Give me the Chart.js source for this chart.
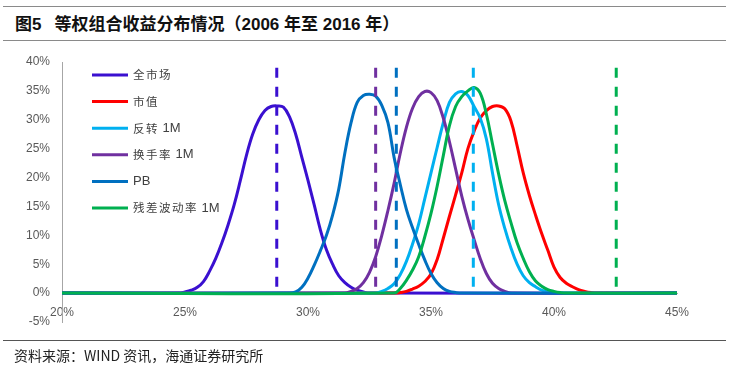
<!DOCTYPE html>
<html><head><meta charset="utf-8">
<script src="https://cdn.jsdelivr.net/npm/chart.js@4.4.1/dist/chart.umd.min.js"></script>
<style>
html,body{margin:0;padding:0;background:#fff;}
#wrap{position:relative;width:729px;height:379px;overflow:hidden;background:#fff;}
#chart{position:absolute;left:0;top:0;}
.rule{position:absolute;left:3px;width:723px;height:0;}
#title{position:absolute;left:15px;top:15px;font-weight:bold;font-size:17px;font-family:"Liberation Sans","Noto Sans CJK SC",sans-serif;color:#111;white-space:pre;line-height:20px;}
#source{position:absolute;left:14px;top:345px;font-size:14px;font-family:"Noto Sans CJK SC","Liberation Sans",sans-serif;color:#222;white-space:pre;line-height:20px;}
</style></head>
<body>
<div id="wrap">
<div class="rule" style="top:6px;border-top:1.5px solid #8a8a8a"></div>
<div id="title">图5<span style="margin-left:13px">等权组合收益分布情况（2006 年至 2016 年）</span></div>
<div class="rule" style="top:40px;border-top:1.5px solid #8a8a8a"></div>
<canvas id="chart" width="729" height="379"></canvas>
<div class="rule" style="top:340px;border-top:1.5px solid #555"></div>
<div id="source">资料来源：WIND 资讯，海通证券研究所</div>
</div>
<script>
// ---- data (returns in %, density in %) ----
const seriesNames = ["全市场", "市值", "反转 1M", "换手率 1M", "PB", "残差波动率 1M"];
const seriesColors = ["#3A10D0", "#FF0000", "#00B0F0", "#7030A0", "#0070C0", "#00B050"];

const allMarketX = [20, 24.75, 25, 25.25, 25.5, 25.75, 26, 26.25, 26.5, 26.75, 27, 27.25, 27.5, 27.75, 28, 28.25, 28.5, 28.75, 29, 29.25, 29.5, 29.75, 30, 30.25, 30.5, 30.75, 31, 31.25, 31.5, 31.75, 32, 32.25, 32.5, 45];
const allMarketY = [0, 0, 0.2, 0.5, 1.0, 2.0, 3.8, 6.0, 8.7, 11.8, 15.3, 19.5, 23.9, 27.5, 30.0, 31.6, 32.3, 32.4, 32.2, 30.5, 27.5, 23.5, 19.5, 15.3, 11.0, 7.5, 5.0, 3.0, 1.8, 1.0, 0.5, 0.2, 0, 0];

const sizeX = [20, 33.5, 33.75, 34, 34.25, 34.5, 34.75, 35, 35.25, 35.5, 35.75, 36, 36.25, 36.5, 36.75, 37, 37.25, 37.5, 37.75, 38, 38.25, 38.5, 38.75, 39, 39.25, 39.5, 39.75, 40, 40.25, 40.5, 40.75, 41, 41.25, 41.5, 41.75, 45];
const sizeY = [0, 0, 0.1, 0.3, 0.7, 1.2, 2.0, 3.3, 5.8, 9.5, 13.3, 17.0, 20.8, 25.0, 28.0, 30.3, 31.6, 32.3, 32.4, 31.9, 29.8, 25.5, 20.8, 16.9, 13.5, 10.3, 7.4, 4.5, 2.7, 1.7, 1.1, 0.6, 0.3, 0.1, 0, 0];

const reversalX = [20, 32.75, 33, 33.25, 33.5, 33.75, 34, 34.25, 34.5, 34.75, 35, 35.25, 35.5, 35.75, 36, 36.25, 36.5, 36.75, 37, 37.25, 37.5, 37.75, 38, 38.25, 38.5, 38.75, 39, 39.25, 39.5, 39.75, 40, 45];
const reversalY = [0, 0, 0.3, 0.8, 1.6, 3.2, 5.5, 8.5, 12.0, 16.4, 20.8, 25.2, 29.5, 33.0, 34.5, 34.9, 34.2, 32.3, 30.3, 26.7, 20.8, 15.3, 11.2, 7.8, 5.0, 3.0, 1.8, 1.1, 0.5, 0.2, 0, 0];

const turnoverX = [20, 31.5, 31.75, 32, 32.25, 32.5, 32.75, 33, 33.25, 33.5, 33.75, 34, 34.25, 34.5, 34.75, 35, 35.25, 35.5, 35.75, 36, 36.25, 36.5, 36.75, 37, 37.25, 37.5, 37.75, 38, 38.25, 45];
const turnoverY = [0, 0, 0.3, 0.8, 1.8, 3.6, 6.3, 10.0, 14.3, 19.0, 24.2, 28.7, 32.0, 34.0, 34.9, 34.7, 33.3, 30.3, 26.2, 21.5, 16.8, 12.8, 9.3, 6.0, 3.4, 1.7, 0.8, 0.3, 0, 0];

const pbX = [20, 29.25, 29.5, 29.75, 30, 30.25, 30.5, 30.75, 31, 31.25, 31.5, 31.75, 32, 32.25, 32.5, 32.75, 33, 33.25, 33.5, 33.75, 34, 34.25, 34.5, 34.75, 35, 35.25, 35.5, 35.75, 36, 36.25, 45];
const pbY = [0, 0, 0.2, 1.0, 2.6, 4.8, 7.3, 10.0, 13.5, 18.0, 24.3, 29.5, 33.0, 34.2, 34.4, 34.1, 32.5, 29.5, 23.5, 18.8, 14.5, 11.3, 8.4, 5.7, 3.4, 1.8, 0.8, 0.3, 0.1, 0, 0];

const residVolX = [20, 33.5, 33.75, 34, 34.25, 34.5, 34.75, 35, 35.25, 35.5, 35.75, 36, 36.25, 36.5, 36.75, 37, 37.25, 37.5, 37.75, 38, 38.25, 38.5, 38.75, 39, 39.25, 39.5, 39.75, 40, 40.25, 40.5, 45];
const residVolY = [0, 0, 0.8, 2.2, 4.0, 6.3, 9.8, 13.8, 18.5, 23.8, 29.0, 32.3, 34.0, 35.0, 35.6, 34.6, 31.0, 25.8, 20.6, 16.0, 12.2, 8.7, 6.0, 3.7, 2.1, 1.2, 0.6, 0.3, 0.1, 0, 0];

// vertical dashed reference lines (realised return of each portfolio), null = not shown
const refReturns = [28.73, null, 36.72, 32.75, 33.59, 42.53];
const refLineTop = 39;

const xTicks = [20, 25, 30, 35, 40, 45];
const yTicks = [-5, 0, 5, 10, 15, 20, 25, 30, 35, 40];

// ---- build datasets ----
const xsList = [allMarketX, sizeX, reversalX, turnoverX, pbX, residVolX];
const ysList = [allMarketY, sizeY, reversalY, turnoverY, pbY, residVolY];

const datasets = [];
seriesNames.forEach((name, i) => {
  datasets.push({
    label: name,
    data: xsList[i].map((x, k) => ({x: x, y: ysList[i][k]})),
    borderColor: seriesColors[i],
    backgroundColor: seriesColors[i],
    borderWidth: 3,
    pointRadius: 0,
    fill: false,
    tension: 0.4,
    order: 20 - i
  });
});
refReturns.forEach((m, i) => {
  if (m === null) return;
  datasets.push({
    label: seriesNames[i] + ' ref',
    data: [{x: m, y: refLineTop}, {x: m, y: 0}],
    borderColor: seriesColors[i],
    borderWidth: 3,
    borderDash: [10, 9],
    borderCapStyle: 'butt',
    pointRadius: 0,
    tension: 0,
    fill: false,
    order: 1
  });
});

const FONT_LATIN = '"Liberation Sans", Arial, sans-serif';
const FONT_CJK = '"Noto Sans CJK SC", sans-serif';

function drawMixed(ctx, text, x, y) {
  const runs = [];
  for (const ch of text) {
    const cjk = /[\u3000-\u9fff\uff00-\uffef]/.test(ch);
    if (runs.length && runs[runs.length - 1].cjk === cjk) runs[runs.length - 1].t += ch;
    else runs.push({cjk: cjk, t: ch});
  }
  ctx.textBaseline = 'middle';
  ctx.textAlign = 'left';
  let cx = x;
  runs.forEach(r => {
    if (r.cjk) {
      ctx.font = '11.5px ' + FONT_CJK;
      ctx.letterSpacing = '1.5px';
    } else {
      ctx.font = '13px ' + FONT_LATIN;
      ctx.letterSpacing = '0px';
    }
    ctx.fillText(r.t, cx, y);
    cx += ctx.measureText(r.t).width;
  });
  ctx.letterSpacing = '0px';
}

const insideLegend = {
  id: 'insideLegend',
  afterDatasetsDraw(chart) {
    const ctx = chart.ctx, a = chart.chartArea;
    seriesNames.forEach((name, i) => {
      const y = a.top + 13 + i * 26.6;
      ctx.save();
      ctx.strokeStyle = seriesColors[i];
      ctx.lineWidth = 3;
      ctx.beginPath();
      ctx.moveTo(a.left + 30, y);
      ctx.lineTo(a.left + 66, y);
      ctx.stroke();
      ctx.fillStyle = '#404040';
      drawMixed(ctx, name, a.left + 71, y);
      ctx.restore();
    });
  }
};

new Chart(document.getElementById('chart'), {
  type: 'line',
  data: {datasets: datasets},
  plugins: [insideLegend],
  options: {
    responsive: false,
    animation: false,
    devicePixelRatio: 1,
    layout: {padding: {top: 62, bottom: 57, left: 0, right: 52}},
    plugins: {legend: {display: false}, tooltip: {enabled: false}},
    scales: {
      x: {
        type: 'linear',
        position: {y: 0},
        min: 20, max: 45,
        afterBuildTicks: (s) => { s.ticks = xTicks.map(v => ({value: v})); },
        ticks: {callback: v => v + '%', color: '#595959', font: {size: 12, family: FONT_LATIN}, padding: 12, maxRotation: 0, autoSkip: false},
        grid: {display: false, drawTicks: false},
        border: {display: true, color: '#a6a6a6', width: 1}
      },
      y: {
        type: 'linear',
        min: -5, max: 40,
        afterBuildTicks: (s) => { s.ticks = yTicks.map(v => ({value: v})); },
        afterFit: (s) => { s.width = 62; },
        ticks: {callback: v => v + '%', color: '#595959', font: {size: 12, family: FONT_LATIN}, padding: 12, autoSkip: false},
        grid: {display: false, drawTicks: false},
        border: {display: true, color: '#a6a6a6', width: 1}
      }
    }
  }
});
</script>
</body></html>
